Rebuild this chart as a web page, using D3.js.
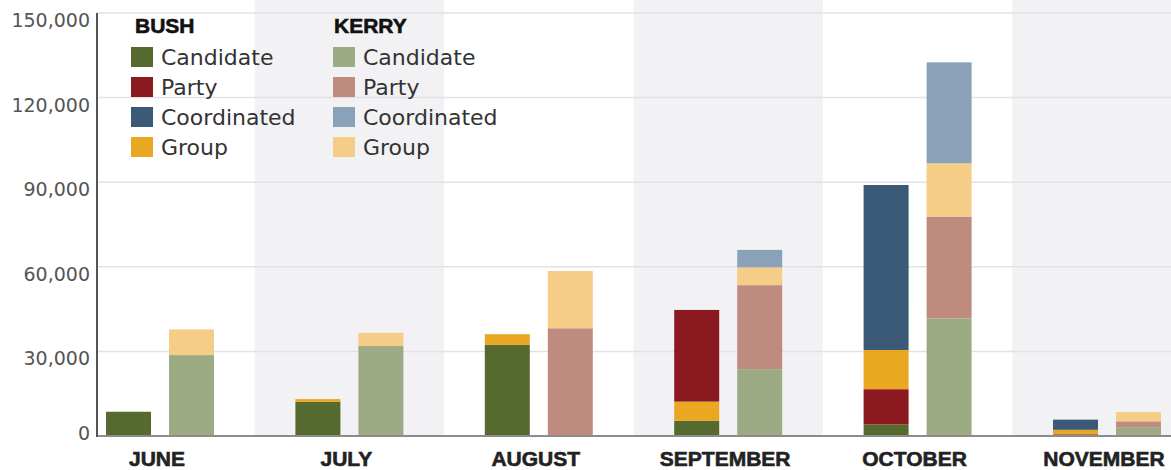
<!DOCTYPE html>
<html>
<head>
<meta charset="utf-8">
<script src="https://cdn.jsdelivr.net/npm/d3@7/dist/d3.min.js"></script>
<style>
  html, body { margin: 0; padding: 0; background: #fff; }
  svg { display: block; }
</style>
</head>
<body>
<svg id="chart" width="1171" height="470"></svg>
<script>
// Campaign ad spending by month, stacked by sponsor type
const months = ["JUNE", "JULY", "AUGUST", "SEPTEMBER", "OCTOBER", "NOVEMBER"];
const candidates = ["BUSH", "KERRY"];
const types = ["Candidate", "Party", "Coordinated", "Group"];

const bushCandidate   = [8600, 12100, 32300, 5400, 4100, 0];
const bushParty       = [0, 0, 0, 32500, 12500, 600];
const bushCoordinated = [0, 0, 0, 0, 58500, 3600];
const bushGroup       = [0, 1000, 3800, 6800, 13900, 1600];

const kerryCandidate   = [28700, 31900, 0, 23700, 41700, 3100];
const kerryParty       = [0, 0, 38200, 29800, 36100, 2100];
const kerryCoordinated = [0, 0, 0, 6200, 35800, 0];
const kerryGroup       = [9100, 4700, 20300, 6300, 18900, 3300];

// bottom-to-top order of the segments in each month's bar
const defaultOrder = ["Candidate", "Party", "Group", "Coordinated"];
const bushStackOrder = [defaultOrder, defaultOrder, defaultOrder,
  ["Candidate", "Group", "Party", "Coordinated"], defaultOrder, defaultOrder];
const kerryStackOrder = [defaultOrder, defaultOrder, defaultOrder,
  defaultOrder, defaultOrder, defaultOrder];

const yTicks = [0, 30000, 60000, 90000, 120000, 150000];

const colors = {
  BUSH:  { Candidate: "#566a2f", Party: "#8a1a1f", Coordinated: "#3a5a78", Group: "#eaa722" },
  KERRY: { Candidate: "#9dab85", Party: "#c08b7f", Coordinated: "#8aa2b8", Group: "#f6cd86" }
};

const series = {
  BUSH:  { Candidate: bushCandidate, Party: bushParty, Coordinated: bushCoordinated, Group: bushGroup, order: bushStackOrder },
  KERRY: { Candidate: kerryCandidate, Party: kerryParty, Coordinated: kerryCoordinated, Group: kerryGroup, order: kerryStackOrder }
};

const svg = d3.select("#chart");
const W = 1171, H = 470;
const axisX = 97;

const x = d3.scaleBand().domain(months).range([65.3, 1201.7]).padding(0);
const pairWidth = 108;
const xc = d3.scaleBand().domain(candidates).range([0, pairWidth]).paddingInner(0.2857).paddingOuter(0);
const y = d3.scaleLinear().domain([0, 150000]).range([436, 13]);

// alternating month bands
const defs = svg.append("defs");
defs.append("clipPath").attr("id", "plotClip")
  .append("rect").attr("x", axisX).attr("y", 0).attr("width", W - axisX).attr("height", y(0));

const plot = svg.append("g").attr("clip-path", "url(#plotClip)");
plot.selectAll("rect.band")
  .data(months.filter((m, i) => i % 2 === 1))
  .join("rect")
  .attr("class", "band")
  .attr("x", d => x(d))
  .attr("y", 0)
  .attr("width", x.bandwidth())
  .attr("height", y(0))
  .attr("fill", "#f2f2f4");

// gridlines
plot.selectAll("line.grid")
  .data(yTicks.filter(t => t > 0))
  .join("line")
  .attr("class", "grid")
  .attr("x1", axisX).attr("x2", W)
  .attr("y1", d => y(d)).attr("y2", d => y(d))
  .attr("stroke", "#e2e2e4")
  .attr("stroke-width", 1.5);

// stacked bars
const segments = [];
months.forEach((m, i) => {
  candidates.forEach(c => {
    let acc = 0;
    series[c].order[i].forEach(t => {
      const v = series[c][t][i];
      if (v > 0) {
        segments.push({ month: m, cand: c, type: t, y0: acc, y1: acc + v });
      }
      acc += v;
    });
  });
});

const offset = (x.bandwidth() - pairWidth) / 2;
svg.append("g").selectAll("rect.seg")
  .data(segments)
  .join("rect")
  .attr("class", "seg")
  .attr("x", d => x(d.month) + offset + xc(d.cand))
  .attr("width", xc.bandwidth())
  .attr("y", d => y(d.y1))
  .attr("height", d => y(d.y0) - y(d.y1))
  .attr("fill", d => colors[d.cand][d.type]);

// axes
svg.append("line")
  .attr("x1", axisX).attr("x2", W)
  .attr("y1", y(0)).attr("y2", y(0))
  .attr("stroke", "#8c8c8c").attr("stroke-width", 2);
svg.append("line")
  .attr("x1", axisX).attr("x2", axisX)
  .attr("y1", y(150000)).attr("y2", y(0) + 1)
  .attr("stroke", "#555").attr("stroke-width", 2);

const fmt = d3.format(",");
svg.append("g").selectAll("text.ytick")
  .data(yTicks)
  .join("text")
  .attr("class", "ytick")
  .attr("x", 90)
  .attr("y", d => d === 0 ? y(d) + 4 : y(d) + 14)
  .attr("text-anchor", "end")
  .attr("font-family", "DejaVu Sans, sans-serif")
  .attr("font-size", 19)
  .attr("fill", "#555")
  .text(d => fmt(d));

svg.append("g").selectAll("text.month")
  .data(months)
  .join("text")
  .attr("class", "month")
  .attr("x", d => x(d) + x.bandwidth() / 2 - 3)
  .attr("y", 466)
  .attr("text-anchor", "middle")
  .attr("font-family", "Liberation Sans, Arial, sans-serif")
  .attr("font-weight", "bold")
  .attr("font-size", 21)
  .attr("fill", "#222")
  .attr("stroke", "#222")
  .attr("stroke-width", 0.6)
  .text(d => d);

// legend
const legendX = { BUSH: 131, KERRY: 333 };
candidates.forEach(c => {
  const g = svg.append("g").attr("transform", `translate(${legendX[c]},0)`);
  g.append("text")
    .attr("x", c === "BUSH" ? 4 : 1)
    .attr("y", 33)
    .attr("font-family", "Liberation Sans, Arial, sans-serif")
    .attr("font-weight", "bold")
    .attr("font-size", 21)
    .attr("fill", "#111")
    .attr("stroke", "#111")
    .attr("stroke-width", 0.6)
    .text(c);
  const rows = g.selectAll("g.row").data(types).join("g")
    .attr("class", "row")
    .attr("transform", (d, i) => `translate(0,${47 + i * 30})`);
  rows.append("rect")
    .attr("width", 22).attr("height", 20)
    .attr("fill", d => colors[c][d]);
  rows.append("text")
    .attr("x", 30).attr("y", 18)
    .attr("font-family", "DejaVu Sans, sans-serif")
    .attr("font-size", 22)
    .attr("fill", "#333")
    .text(d => d);
});
</script>
</body>
</html>
